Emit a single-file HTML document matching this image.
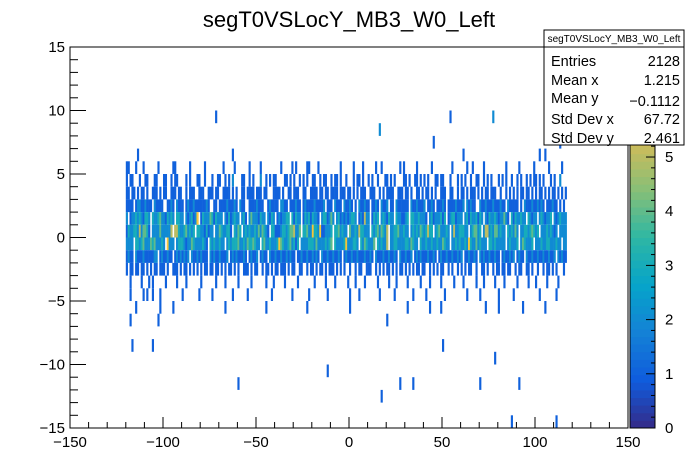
<!DOCTYPE html>
<html><head><meta charset="utf-8"><style>
body{margin:0;background:#fff;font-family:"Liberation Sans",sans-serif}
svg{display:block}
</style></head><body>
<svg id="c" width="698" height="476" xmlns="http://www.w3.org/2000/svg">
<text x="349" y="27" font-size="22" text-anchor="middle">segT0VSLocY_MB3_W0_Left</text>
<g id="cells"></g>
<g id="axes"></g>
<g id="pal"></g>
<g>
<rect x="544" y="30" width="140" height="115" fill="#fff" stroke="#000" stroke-width="1"/>
<line x1="544" y1="47" x2="684" y2="47" stroke="#000"/>
<text x="614" y="42" font-size="10" text-anchor="middle">segT0VSLocY_MB3_W0_Left</text>
<g font-size="14.5">
<text x="551" y="66">Entries</text><text x="680" y="66" text-anchor="end">2128</text>
<text x="551" y="85">Mean x</text><text x="680" y="85" text-anchor="end">1.215</text>
<text x="551" y="103">Mean y</text><text x="680" y="106" text-anchor="end">−0.1112</text>
<text x="551" y="124">Std Dev x</text><text x="680" y="124" text-anchor="end">67.72</text>
<text x="551" y="143">Std Dev y</text><text x="680" y="143" text-anchor="end">2.461</text>
</g></g>
</svg>
<script>
const xStart=-120;
const rowLows=[6,5,4,3,2,1,0,-1,-2,-3,-4,-5,-6,-7];
const rowData=[
"......1..................................................1....................................................................................................................................................................1..........",
"11...1...1.......1.......11.......1.......1.........1.....1.......1.....1..........1.....1.1.....11....1...........1......1....1......1..1.........1.1......1.......1..........1.......1..1.....1...........1......1.......1.......1......1..1..1...2",
["1.11...1..","11...11...","11..1.11..","..1.1...11","..1...1..1","1..1.1.2..",". 11..1.1.","..2..1.1.1","1....11.1.","1..1.1.1..","11..1.11..","1.11.1..1.","..1.11.1..","1.1..1...1","1.1.1....1","1.1..11.1.","1.1...11.1","1...1...1.","1.1..1..11","..1.1.1...","1.1.1..1..","1.1..1.1.1","1.1.1...1.","1..2......"].join(''),
["11.11.1.11",".1..111.1.","11..111.11","..1.111..1","11..111.11","..1111.1.1","..11.1111.","111.11...1","111.1..11.","111..11..1","111.11.11.","1111.111.1","1.1.1.111.",".111..1.1.","1111..111.","11.1..11.1",".11.1.1..1","11..11..1.","11.1.111.1",".1.11.111.",".1..1.1.1.","1.11.11.1.","1.11.1.1.1","1.1.1.1.22"].join(''),
["1111.12211","2111.21111","..1121.211","1.12112111","11121..11.","1111211121",".211..1111","2111..1211","11.2211.11","1211.12111","1211112.11","1.2111.211","21.1.21121","1.1121.211","2.11.21111","11.2112111","2.1121.111","21.1111211","12.21211..","2112111211","1211.21111","1.1.211121","12121.1112","11.1.1.111"].join(''),
["2.12232321","332.322342","213232.332","2.2123126.","1322243132","22.2131232","2.231.2422","21322.2132",".1212233.3","1322.13231","3221.23312","42.2312121","2332.12152","2.1323.232","1322.32211","23.3322322","21.2312223","13.1233122","2.23132231","32.2132232","122421.313","22322.3212","2.2321223.","2123222121"].join(''),
["1322332524","431.222242","22225.5532","2342323.33","2213122.22","4322331.32","43.2323223","2424321.33","1112332344","5224.33422","6332611222","3.3342322.","4223253322","2.32342432","5.22334223","22.2323243","23533.2342","2232.25223","3322.23442","3.25523244","2322.32324","2.22332343","23.2223232","12.2222322"].join(''),
["2222.33234","2224342223","2.6222.233","3212243222","2321.32322","322.232333","4223243343","22.3422322","2364322342","313.222233","3242222323","4.32222362","22332.3243","2224.32322","5.22332222","3324322.32","2322322322","4322.22323","2232632242","3222.33232","2222.23222","3.2432223.","2223223322","2322.2223."].join(''),
["1211.21112","1111122.12","11211.1212","1212.21121","2111.21211","21112.1212","11121.1211","2.1211.211","2112112121","1.11211211","2121.21121","121121.121","1211211121","121.211121","121121.211","2112.12121","1121121.12","1121121121","2.1121121.","2121121121","1.1211212.","1211.21121","1211211211","2.21211211"].join(''),
["1.11.11.11",".1.1.11.11","1.1..111.1",".11.1.1.1.","1.11.11.11",".1.1.11.1.","1..111.1.1","1..1.11.1.","11.111.1.1","1..11..1.1","1.1.11.1.1","11.1.1.1..","1..1.11..1","11..1.1.1.","11.1.1.11.","1.1.1.11.1","1..1.1.1.1","1..1.1..1.","1.1.11..1.",".11.1..1.1","1.11.11..1",".11..11.1.",".1..1.11.1",".1...1.1.."].join(''),
"..1.....1...1.1......1.....1....1.......1.......1....1......1......1.......1...1.....1......1........1.....1....1......1...1....1......1.....1...1.....1......1....1.....1......1....1......1...1.....1....1......1.....1...1.....1.....1........1",
"..1......1.1..1...1...........1........1......1..........1.......1............1..........1........1.........1...........1....1..........1.......1.........1......1.........1...........1......1.........1.......1.............1........1...........1",
".....1............1......1...........................1.....................1.....................1......................1..............................1...........1.....1.......................1......1............1...........1..................1",
"..1..............1..........................................................................................................................1...................................................................................................",
];
const extraX=[-72,16,54,77,45,61,105,-117,-106,50,78,-60,-12,27,34,70,91,17,87,111,113];
const extraY=[9,8,9,9,7,6,6,-9,-9,-9,-10,-12,-11,-12,-12,-12,-12,-13,-15,-15,7];
const extraV=[1,2,1,2,1,1,1,1,1,1,1,1,1,1,1,1,1,1,1,1,1];
const xTicks=[-150,-100,-50,0,50,100,150];
const yTicks=[-15,-10,-5,0,5,10,15];
const zTicks=[0,1,2,3,4,5];
const X0=70,X1=628,Y0=47,Y1=428;
const sx=v=>X0+(v+150)*(X1-X0)/300;
const sy=v=>Y1-(v+15)*(Y1-Y0)/30;
const zMax=7.03;
const bird=[[53,42,135],[15,92,221],[20,129,214],[6,164,202],[46,183,164],[135,191,119],[209,187,89],[254,200,50],[249,251,14]];
function col(v){let t=Math.min(v/zMax,1)*8;let i=Math.min(Math.floor(t),7),f=t-i;const a=bird[i],b=bird[i+1];return `rgb(${a.map((c,k)=>Math.round(c+(b[k]-c)*f)).join(',')})`;}
const NS="http://www.w3.org/2000/svg";
function mk(t,at,p){const e=document.createElementNS(NS,t);for(const k in at)e.setAttribute(k,at[k]);p.appendChild(e);return e;}
const cells=document.getElementById('cells');
function cell(x,y,v){const r=mk('rect',{x:sx(x),y:sy(y+1),width:sx(x+1)-sx(x)+0.3,height:sy(y)-sy(y+1),fill:col(v)},cells);

}
rowData.forEach((s,ri)=>{for(let i=0;i<s.length&&i<237;i++){const c=s[i];if(c>='1'&&c<='9'){cell(xStart+i,rowLows[ri],+c);}}});
extraX.forEach((x,i)=>cell(x,extraY[i],extraV[i]));
const ax=document.getElementById('axes');
mk('rect',{x:X0,y:Y0,width:X1-X0,height:Y1-Y0,fill:'none',stroke:'#000','stroke-width':1},ax);
for(let v=-150;v<=150;v+=10){const M=v%50===0;mk('line',{x1:sx(v),x2:sx(v),y1:Y1,y2:Y1-(M?11:6),stroke:'#000'},ax);}
xTicks.forEach(v=>{const t=mk('text',{x:sx(v),y:Y1+19,'font-size':15,'text-anchor':'middle'},ax);t.textContent=(v<0?'−':'')+Math.abs(v);

});
for(let v=-15;v<=15;v+=1){const M=v%5===0;mk('line',{x1:X0,x2:X0+(M?16:8),y1:sy(v),y2:sy(v),stroke:'#000'},ax);}
yTicks.forEach(v=>{const t=mk('text',{x:X0-5,y:sy(v)+5,'font-size':15,'text-anchor':'end'},ax);t.textContent=(v<0?'−':'')+Math.abs(v);

});
const pal=document.getElementById('pal');
const PX=630,PW=25,N=50;
for(let i=0;i<N;i++){const v0=i*zMax/N;const y0=Y1-(i+1)*(Y1-Y0)/N;mk('rect',{x:PX,y:y0,width:PW,height:(Y1-Y0)/N+0.5,fill:col(v0+zMax/N/2)},pal);}
mk('rect',{x:PX,y:Y0,width:PW,height:Y1-Y0,fill:'none',stroke:'#000'},pal);
const zy=v=>Y1-v*(Y1-Y0)/zMax;
for(let v=0;v<=7;v+=0.2){const M=Math.abs(v-Math.round(v))<1e-6;mk('line',{x1:PX+PW,x2:PX+PW-(M?9:4),y1:zy(v),y2:zy(v),stroke:'#000'},pal);}
zTicks.forEach(v=>{const t=mk('text',{x:PX+PW+10,y:zy(v)+5,'font-size':15},pal);t.textContent=v;

});
</script>
</body></html>
